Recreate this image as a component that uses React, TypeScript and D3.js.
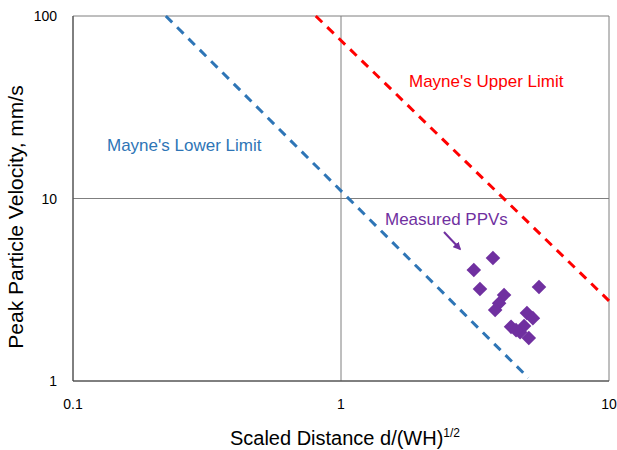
import React from "react";
import * as d3 from "d3";

const measuredX = [3.13, 3.69, 3.30, 5.48, 4.06, 3.89, 3.76, 4.31, 4.66, 4.94, 5.20, 5.02, 4.82, 4.50];
const measuredY = [4.06, 4.72, 3.19, 3.27, 2.96, 2.67, 2.45, 1.98, 1.85, 2.36, 2.21, 1.72, 2.00, 1.90];
const lowerLimitX = [0.222, 5.0];
const lowerLimitY = [100, 1.04];
const upperLimitX = [0.805, 10];
const upperLimitY = [100, 2.75];
const xTicks = [0.1, 1, 10];
const yTicks = [1, 10, 100];
const xTickLabels = ["0.1", "1", "10"];
const yTickLabels = ["1", "10", "100"];

export default function App() {
  const W = 617, H = 450;
  const m = { left: 73, right: 609, top: 16, bottom: 381 };
  const x = d3.scaleLog().domain([0.1, 10]).range([m.left, m.right]);
  const y = d3.scaleLog().domain([1, 100]).range([m.bottom, m.top]);
  const line = d3.line<[number, number]>().x(d => x(d[0])).y(d => y(d[1]));
  const lower = lowerLimitX.map((v, i) => [v, lowerLimitY[i]] as [number, number]);
  const upper = upperLimitX.map((v, i) => [v, upperLimitY[i]] as [number, number]);
  const diamond = d3.symbol().type(d3.symbolDiamond2).size(135)();
  const font = "Liberation Sans, Arial, sans-serif";
  return (
    <svg width={W} height={H} style={{ position: "absolute", left: 0, top: 0 }} fontFamily={font}>
      <rect width={W} height={H} fill="#fff" />
      {xTicks.map(t => (
        <line key={"gx" + t} x1={x(t)} x2={x(t)} y1={m.top} y2={m.bottom} stroke="#7f7f7f" strokeWidth={1} />
      ))}
      {yTicks.map(t => (
        <line key={"gy" + t} x1={m.left} x2={m.right} y1={y(t)} y2={y(t)} stroke="#7f7f7f" strokeWidth={1} />
      ))}
      <line x1={m.left} x2={m.left} y1={m.top} y2={m.bottom} stroke="#404040" strokeWidth={1} />
      <line x1={m.left} x2={m.right} y1={m.bottom} y2={m.bottom} stroke="#404040" strokeWidth={1} />
      {xTicks.map((t, i) => (
        <text key={"xl" + t} x={x(t)} y={409} textAnchor="middle" fontSize={14} fill="#000">{xTickLabels[i]}</text>
      ))}
      {yTicks.map((t, i) => (
        <text key={"yl" + t} x={57} y={y(t) + 5} textAnchor="end" fontSize={14} fill="#000">{yTickLabels[i]}</text>
      ))}
      <path d={line(lower) || ""} fill="none" stroke="#2E75B6" strokeWidth={3} strokeDasharray="9 7" />
      <path d={line(upper) || ""} fill="none" stroke="#FF0000" strokeWidth={3} strokeDasharray="9 7" />
      {measuredX.map((v, i) => (
        <path key={"p" + i} d={diamond || ""} transform={`translate(${x(v)},${y(measuredY[i])})`} fill="#7030A0" />
      ))}
      <text x={107} y={150.5} fontSize={17} fill="#2E75B6">Mayne's Lower Limit</text>
      <text x={409} y={86.5} fontSize={17} fill="#FF0000">Mayne's Upper Limit</text>
      <text x={385} y={225} fontSize={17} fill="#7030A0">Measured PPVs</text>
      <defs>
        <marker id="ah" viewBox="0 0 10 10" refX="8" refY="5" markerWidth="4" markerHeight="4" orient="auto">
          <path d="M0,0 L10,5 L0,10 Z" fill="#7030A0" />
        </marker>
      </defs>
      <line x1={444} y1={232} x2={460} y2={249} stroke="#7030A0" strokeWidth={2} markerEnd="url(#ah)" />
      <text x={345} y={445} textAnchor="middle" fontSize={20} fill="#000">
        Scaled Distance d/(WH)<tspan fontSize={12} dy={-8}>1/2</tspan>
      </text>
      <text transform={`translate(23,217) rotate(-90)`} textAnchor="middle" fontSize={21} fill="#000">
        Peak Particle Velocity, mm/s
      </text>
    </svg>
  );
}
